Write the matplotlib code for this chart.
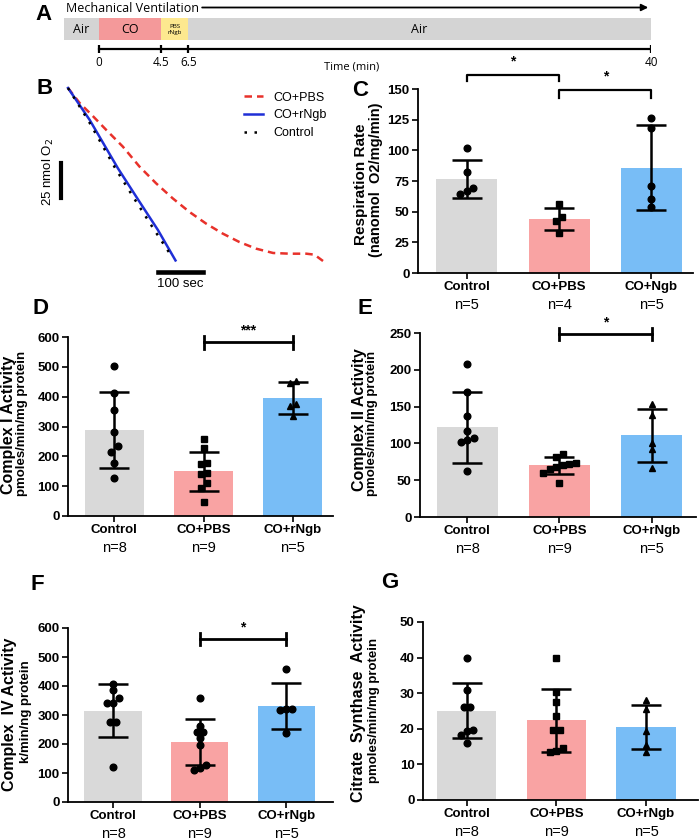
import numpy as np
import matplotlib
matplotlib.use('Agg')
import matplotlib.pyplot as plt
from matplotlib.lines import Line2D
from matplotlib.transforms import offset_copy

plt.rcParams['font.family'] = ['Liberation Sans', 'DejaVu Sans']

# ======================
# DATA
# ======================
# panel A: ventilation protocol (minutes)
seg_start = [-2.5, 0, 4.5, 6.5]
seg_end = [0, 4.5, 6.5, 40]
seg_names = ['Air', 'CO', 'PBS\nrNgb', 'Air']
time_ticks = [0, 4.5, 6.5, 40]

# panel B: O2 consumed (nmol) vs time (s)
t_pbs = [0, 26, 56, 85, 122, 159, 196, 233, 270, 307, 344, 381, 418, 456, 493, 530, 548, 567]
o2_pbs = [0, 10.7, 20.2, 29.8, 41.7, 55.9, 67.8, 78.5, 88.1, 96.4, 103.5, 109.5,
          114.2, 117.3, 117.8, 117.8, 118.5, 123]
t_ngb = [0, 48, 111, 159, 200, 239]
o2_ngb = [0, 22.6, 57.1, 80.9, 101, 122.6]
t_ctl = [0, 45, 105, 150, 190, 225]
o2_ctl = [0, 23, 57, 80, 100, 117]

groups_c = ['Control', 'CO+PBS', 'CO+Ngb']
groups = ['Control', 'CO+PBS', 'CO+rNgb']
n_c = [5, 4, 5]
n_all = [8, 9, 5]

# panel C: respiration rate
c_mean = [77, 44, 86]
c_sd = [15.5, 9, 34.5]
c_pts = [[102, 82, 69, 67, 64], [56, 46, 42, 33], [126, 118, 71, 60, 54]]

# panel D: complex I
d_mean = [288, 150, 395]
d_sd = [126, 65, 53]
d_pts = [[502, 412, 354, 283, 233, 216, 179, 127],
         [259, 227, 177, 174, 143, 140, 110, 93, 48],
         [453, 446, 376, 369, 336]]

# panel E: complex II
e_mean = [122, 70, 111]
e_sd = [48.5, 11.3, 36]
e_pts = [[208, 170, 137, 117, 107, 104, 102, 62],
         [86, 82, 74, 72, 70, 68, 65, 60, 46],
         [154, 139, 100, 92, 66]]

# panel F: complex IV
f_mean = [315, 208, 332]
f_sd = [91, 79, 79.5]
f_pts = [[407, 387, 358, 343, 340, 277, 275, 121],
         [358, 263, 243, 243, 221, 196, 127, 118, 110],
         [459, 322, 322, 318, 238]]

# panel G: citrate synthase
g_mean = [25.1, 22.4, 20.4]
g_sd = [7.7, 8.8, 6.2]
g_pts = [[40, 31, 26, 26, 19.7, 19.5, 18.3, 16.1],
         [39.9, 30.2, 27.4, 23.5, 19.8, 19.6, 14.5, 13.8, 13.6],
         [28.1, 25.5, 19.5, 15.5, 13.6]]

BAR_COLORS = ['#d9d9d9', '#f9a3a3', '#78bdf6']

# ======================
# HELPERS
# ======================
W, H = 700, 840
fig = plt.figure(figsize=(7, 8.4), dpi=100)


def add_px_axes(x0, y0, x1, y1):
    return fig.add_axes([x0 / W, 1 - y1 / H, (x1 - x0) / W, (y1 - y0) / H])


def fig_text(x, y, s, **kw):
    fig.text(x / W, 1 - y / H, s, **kw)


def spread(vals, tol, step=0.07):
    vals = np.asarray(vals, float)
    order = np.argsort(vals)
    off = np.zeros(len(vals))
    grp = [order[0]]
    allg = []
    for idx in order[1:]:
        if vals[idx] - vals[grp[-1]] < tol:
            grp.append(idx)
        else:
            allg.append(grp)
            grp = [idx]
    allg.append(grp)
    for g in allg:
        k = len(g)
        if k > 1:
            off[g] = (np.arange(k) - (k - 1) / 2) * step
    return off


def bar_panel(box, xlim, means, sds, pts, marks, ylim, ystep, names, ns):
    ax = add_px_axes(*box)
    x = np.arange(len(means))
    ax.bar(x, means, width=0.66, color=BAR_COLORS, zorder=1)
    ax.errorbar(x, means, yerr=sds, fmt='none', ecolor='k', elinewidth=1.8,
                capsize=11, capthick=1.8, zorder=2)
    tol = 0.03 * (ylim[1] - ylim[0])
    for i, vals in enumerate(pts):
        off = spread(vals, tol)
        ax.plot(i + off, vals, ls='none', marker=marks[i], ms=4.8, color='k',
                zorder=3, clip_on=False)
    ax.set_xlim(*xlim)
    ax.set_ylim(*ylim)
    ax.set_yticks(np.arange(ylim[0], ylim[1] + ystep / 2, ystep))
    ax.set_xticks(x)
    ax.set_xticklabels(names, fontweight='bold', fontsize=9.5)
    for lbl in ax.get_yticklabels():
        lbl.set_fontweight('bold')
        lbl.set_fontsize(9.5)
    ax.tick_params(direction='out', length=4, width=1.2, pad=2)
    for s in ['top', 'right']:
        ax.spines[s].set_visible(False)
    for s in ['left', 'bottom']:
        ax.spines[s].set_linewidth(1.3)
    tr = offset_copy(ax.get_xaxis_transform(), fig=fig, y=-32, units='dots')
    for i, n in enumerate(ns):
        ax.text(i, 0, f'n={n}', transform=tr, ha='center', va='center', fontsize=10.5)
    return ax


def sig_bar(ax, x0, x1, y, half, star, ystar):
    ax.plot([x0, x1], [y, y], color='k', lw=2, clip_on=False)
    for xx in (x0, x1):
        ax.plot([xx, xx], [y - half, y + half], color='k', lw=2, clip_on=False)
    ax.text((x0 + x1) / 2, ystar, star, ha='center', va='center', fontsize=10,
            fontweight='bold', clip_on=False)


def sig_bracket(ax, x0, x1, y, drop, ystar):
    ax.plot([x0, x0, x1, x1], [y - drop, y, y, y - drop], color='k', lw=1.6, clip_on=False)
    ax.text((x0 + x1) / 2, ystar, '*', ha='center', va='center', fontsize=10,
            fontweight='bold', clip_on=False)


# ======================
# PANEL A
# ======================
axA = add_px_axes(64, 0, 651, 75)
axA.set_xlim(-2.5, 40)
axA.set_ylim(75, 0)
axA.axis('off')
seg_colors = ['#d4d4d4', '#f4999a', '#fde88f', '#d4d4d4']
widths = np.array(seg_end) - np.array(seg_start)
axA.barh(29, widths, left=seg_start, height=22, color=seg_colors)
for s, e, name in zip(seg_start, seg_end, seg_names):
    fs = 4.5 if '\n' in name else 9
    axA.text((s + e) / 2, 29.5, name, ha='center', va='center', fontsize=fs,
             family='Open Sans', linespacing=1.3)
axA.plot([0, 40], [49, 49], color='k', lw=1.6)
axA.vlines(time_ticks, 45, 53, color='k', lw=1.6)
for t in time_ticks:
    axA.text(t, 62, f'{t:g}', ha='center', va='center', fontsize=8.5, family='Open Sans')
axA.text(18.3, 67, 'Time (min)', ha='center', va='center', fontsize=8, family='Open Sans')
axA.text(-2.39, 8, 'Mechanical Ventilation', ha='left', va='center', fontsize=9,
         family='Open Sans')
axA.annotate('', xy=(40, 7.5), xytext=(7.3, 7.5),
             arrowprops=dict(arrowstyle='-|>', color='k', lw=1.3, mutation_scale=10))

# ======================
# PANEL B
# ======================
axB = add_px_axes(68, 88, 323, 261)
axB.set_xlim(0, 567)
axB.set_ylim(-123, 0)
axB.axis('off')
axB.plot(t_pbs, -np.array(o2_pbs), color='#e8312a', lw=1.8, ls=(0, (3, 2)), clip_on=False)
axB.plot(t_ngb, -np.array(o2_ngb), color='#1f2fd6', lw=1.8, clip_on=False)
axB.plot(t_ctl, -np.array(o2_ctl), color='k', lw=1.8, ls=(0, (1, 3)), clip_on=False)
axB.plot([-16, -16], [-53, -53 - 25], color='k', lw=3, clip_on=False)
axB.plot([200, 300], [-131, -131], color='k', lw=3.3, clip_on=False)
axB.text(-44.5, -60, '25 nmol O$_2$', rotation=90, ha='center', va='center', fontsize=9.5)
axB.text(249, -139, '100 sec', ha='center', va='center', fontsize=9.5)
handles = [Line2D([], [], color='#e8312a', lw=1.8, ls=(0, (3, 2))),
           Line2D([], [], color='#1f2fd6', lw=1.8),
           Line2D([], [], color='k', lw=1.8, ls=(0, (1, 3)))]
axB.legend(handles, ['CO+PBS', 'CO+rNgb', 'Control'], loc='upper left',
           bbox_to_anchor=((240 - 68) / 255, 1.0), frameon=False, fontsize=9,
           handlelength=1.5, handletextpad=0.9, labelspacing=0.45,
           borderaxespad=0, borderpad=0.3)

# ======================
# BAR PANELS
# ======================
axC = bar_panel((418, 89, 693, 273), (-0.53, 2.45), c_mean, c_sd, c_pts, ['o', 's', 'o'],
                (0, 150), 25, groups_c, n_c)
sig_bracket(axC, 0, 1, 161.4, 5, 172.5)
sig_bracket(axC, 1, 2, 149.2, 6.5, 160)

axD = bar_panel((68, 337, 333, 516), (-0.52, 2.45), d_mean, d_sd, d_pts, ['o', 's', '^'],
                (0, 600), 100, groups, n_all)
sig_bar(axD, 1, 2, 583, 22, '***', 621)

axE = bar_panel((420, 333, 696, 517), (-0.51, 2.48), e_mean, e_sd, e_pts, ['o', 's', '^'],
                (0, 250), 50, groups, n_all)
sig_bar(axE, 1, 2, 248.6, 8, '*', 264)

axF = bar_panel((68, 628, 333, 802), (-0.52, 2.54), f_mean, f_sd, f_pts, ['o', 'o', 'o'],
                (0, 600), 100, groups, n_all)
sig_bar(axF, 1, 2, 562, 21, '*', 601)

axG = bar_panel((423, 622, 698, 800), (-0.49, 2.58), g_mean, g_sd, g_pts, ['o', 's', '^'],
                (0, 50), 10, groups, n_all)

# y labels (two lines, different sizes)
fig_text(361, 184, 'Respiration Rate', rotation=90, ha='center', va='center',
         fontsize=11, fontweight='bold')
fig_text(376, 180, '(nanomol  O2/mg/min)', rotation=90, ha='center', va='center',
         fontsize=10.5, fontweight='bold')
fig_text(9, 425, 'Complex I Activity', rotation=90, ha='center', va='center',
         fontsize=11.5, fontweight='bold')
fig_text(22, 423, 'pmoles/min/mg protein', rotation=90, ha='center', va='center',
         fontsize=9.5, fontweight='bold')
fig_text(359, 420, 'Complex II Activity', rotation=90, ha='center', va='center',
         fontsize=11.5, fontweight='bold')
fig_text(372, 423, 'pmoles/min/mg protein', rotation=90, ha='center', va='center',
         fontsize=9.5, fontweight='bold')
fig_text(10, 714, 'Complex  IV Activity', rotation=90, ha='center', va='center',
         fontsize=11.5, fontweight='bold')
fig_text(26, 712, 'k/min/ng protein', rotation=90, ha='center', va='center',
         fontsize=9.5, fontweight='bold')
fig_text(358, 703, 'Citrate  Synthase  Activity', rotation=90, ha='center', va='center',
         fontsize=11.5, fontweight='bold')
fig_text(374, 710, 'pmoles/min/mg protein', rotation=90, ha='center', va='center',
         fontsize=9.5, fontweight='bold')

# panel letters
for letter, (px, py) in zip('ABCDEFG', [(43, 15), (45, 89), (360, 90), (40, 308),
                                        (365, 308), (37, 585), (390, 583)]):
    fig_text(px, py, letter, ha='center', va='center', fontsize=16, fontweight='bold')

fig.savefig('out.png', dpi=100)
